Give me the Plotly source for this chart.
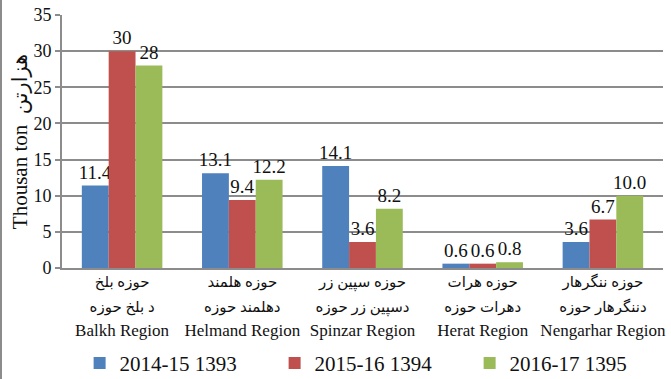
import plotly.graph_objects as go

# Regions (Dari / Pashto / English labels)
regions_en = ["Balkh Region", "Helmand Region", "Spinzar Region", "Herat Region", "Nengarhar Region"]
regions_dari = ["حوزه بلخ", "حوزه هلمند", "حوزه سپین زر", "حوزه هرات", "حوزه ننگرهار"]
regions_pashto = ["د بلخ حوزه", "دهلمند حوزه", "دسپین زر حوزه", "دهرات حوزه", "دننگرهار حوزه"]

series_names = ["2014-15 1393", "2015-16 1394", "2016-17 1395"]
vals_1393 = [11.4, 13.1, 14.1, 0.6, 3.6]
vals_1394 = [30, 9.4, 3.6, 0.6, 6.7]
vals_1395 = [28, 12.2, 8.2, 0.8, 10.0]
labels_1393 = ["11.4", "13.1", "14.1", "0.6", "3.6"]
labels_1394 = ["30", "9.4", "3.6", "0.6", "6.7"]
labels_1395 = ["28", "12.2", "8.2", "0.8", "10.0"]

y_ticks = [0, 5, 10, 15, 20, 25, 30, 35]

colors = ["#4F81BD", "#C0504D", "#9BBB59"]
SERIF = "Liberation Serif, DejaVu Sans, serif"

tick_text = [
    f"<span style='font-size:15px'>{d}</span><br>"
    f"<span style='font-size:15px'>{p}</span><br>"
    f"<span style='font-size:17px'>{e}</span>"
    for d, p, e in zip(regions_dari, regions_pashto, regions_en)
]

fig = go.Figure()
for name, vals, labels, col in zip(
    series_names,
    [vals_1393, vals_1394, vals_1395],
    [labels_1393, labels_1394, labels_1395],
    colors,
):
    fig.add_trace(go.Bar(
        x=regions_en, y=vals, name=name,
        marker=dict(color=col, line=dict(width=0)),
        text=labels, textposition="outside", constraintext="none",
        textfont=dict(family=SERIF, size=19, color="#111"),
        cliponaxis=False,
    ))

fig.update_layout(
    width=671, height=379,
    margin=dict(l=62, r=8, t=15, b=111, autoexpand=False),
    paper_bgcolor="white", plot_bgcolor="white",
    barmode="group", bargap=0.33, bargroupgap=0,
    font=dict(family=SERIF, size=19, color="#111"),
    showlegend=True,
    legend=dict(
        orientation="h", x=0.516, xanchor="center", y=-0.296, yanchor="top",
        bgcolor="rgba(0,0,0,0)",
        font=dict(family=SERIF, size=21, color="#111"),
        entrywidth=150, entrywidthmode="pixels", traceorder="normal",
    ),
    xaxis=dict(
        tickmode="array", tickvals=regions_en, ticktext=tick_text,
        tickfont=dict(family=SERIF, size=19, color="#111"),
        ticklabelstandoff=-6, automargin=False,
        showline=True, linecolor="#8c8c8c", linewidth=2,
        showgrid=False, ticks="",
    ),
    yaxis=dict(
        range=[0, 35], tickvals=y_ticks, automargin=False,
        tickfont=dict(family=SERIF, size=18, color="#111"),
        showgrid=True, gridcolor="#8c8c8c", gridwidth=2,
        showline=True, linecolor="#8c8c8c", linewidth=2,
        ticks="outside", ticklen=5, tickcolor="#8c8c8c", tickwidth=2,
        zeroline=False,
        title=dict(text="Thousan ton  هزارتن",
                   font=dict(family=SERIF, size=21, color="#111"),
                   standoff=0),
    ),
    shapes=[dict(type="line", xref="paper", yref="paper",
                 x0=-0.1015, x1=-0.1015, y0=-0.45, y1=1.06,
                 line=dict(color="#8c8c8c", width=2))],
)

fig.write_html("out.html")
